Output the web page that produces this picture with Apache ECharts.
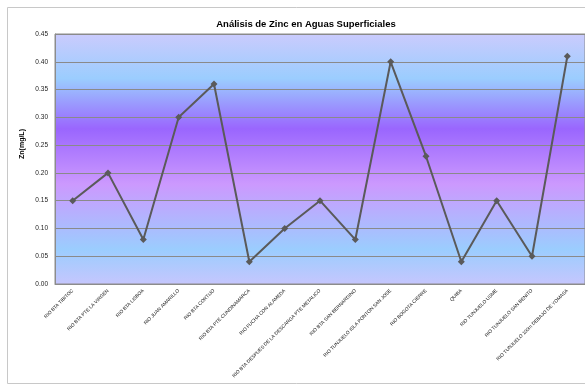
<!DOCTYPE html>
<html>
<head>
<meta charset="utf-8">
<script src="https://cdn.jsdelivr.net/npm/echarts@6/dist/echarts.min.js"></script>
<style>
  html, body { margin: 0; padding: 0; background: #ffffff; }
  #chart { width: 585px; height: 388px; }
</style>
</head>
<body>
<div id="chart"></div>
<script>
// Sampling stations along the river
const stations = [
  'RIO BTA TIBITOC',
  'RIO BTA PTE LA VIRGEN',
  'RIO BTA LISBOA',
  'RIO JUAN AMARILLO',
  'RIO BTA CORTIJO',
  'RIO BTA PTE CUNDINAMARCA',
  'RIO FUCHA CON ALAMEDA',
  'RIO BTA DESPUES DE LA DESCARGA PTE METALICO',
  'RIO BTA SAN BERNARDINO',
  'RIO TUNJUELO ISLA PONTON SAN JOSE',
  'RIO BOGOTA CIERRE',
  'QUIBA',
  'RIO TUNJUELO USME',
  'RIO TUNJUELO SAN BENITO',
  'RIO TUNJUELO 100m DEBAJO DE YOMASA'
];

// Zinc concentration (mg/L)
const zinc = [0.15, 0.20, 0.08, 0.30, 0.36, 0.04, 0.10, 0.15, 0.08, 0.40, 0.23, 0.04, 0.15, 0.05, 0.41];

const titleText = 'Análisis de Zinc en Aguas Superficiales';
const yAxisTitle = 'Zn(mg/L)';

const chart = echarts.init(document.getElementById('chart'));

const plotFill = new echarts.graphic.LinearGradient(0, 0, 0, 1, [
  { offset: 0.00, color: '#cbcbfd' },
  { offset: 0.18, color: '#9bcdfe' },
  { offset: 0.38, color: '#9a66fe' },
  { offset: 0.60, color: '#cc99fe' },
  { offset: 0.86, color: '#9bcdfe' },
  { offset: 1.00, color: '#c6c6fd' }
]);

chart.setOption({
  animation: false,
  backgroundColor: '#ffffff',
  title: {
    text: titleText,
    left: 301,
    top: 14,
    textAlign: 'center',
    textStyle: { fontFamily: 'Liberation Sans, Arial, sans-serif', fontSize: 9.5, fontWeight: 'bold', color: '#000000' }
  },
  graphic: [{
    type: 'rect',
    shape: { x: 7.5, y: 7.5, width: 600, height: 376 },
    style: { fill: 'none', stroke: '#c8c8c8', lineWidth: 1 },
    z: -10
  }, {
    // vertical axis title, sitting a little above the plot's middle
    type: 'text',
    x: 22,
    y: 144,
    rotation: Math.PI / 2,
    style: {
      text: yAxisTitle,
      align: 'center',
      verticalAlign: 'middle',
      fontFamily: 'Liberation Sans, Arial, sans-serif',
      fontSize: 7,
      fontWeight: 'bold',
      fill: '#000000'
    }
  }],
  grid: {
    left: 55,
    right: 0,
    top: 34,
    bottom: 104,
    show: true,
    backgroundColor: plotFill,
    borderColor: '#8c8c8c',
    borderWidth: 1
  },
  xAxis: {
    type: 'category',
    data: stations,
    boundaryGap: true,
    axisLine: { show: true, lineStyle: { color: '#8c8c8c' } },
    axisTick: { show: false },
    axisLabel: {
      rotate: 45,
      interval: 0,
      fontSize: 4.8,
      color: '#222222',
      fontFamily: 'Liberation Sans, Arial, sans-serif',
      margin: 6
    },
    splitLine: { show: false }
  },
  yAxis: {
    type: 'value',
    min: 0,
    max: 0.45,
    interval: 0.05,
    axisLine: { show: true, lineStyle: { color: '#8c8c8c' } },
    axisTick: { show: false },
    axisLabel: {
      formatter: v => v.toFixed(2),
      fontSize: 6.5,
      color: '#222222',
      fontFamily: 'Liberation Sans, Arial, sans-serif',
      margin: 7
    },
    splitLine: { show: true, lineStyle: { color: '#8a8a8a', width: 1 } }
  },
  series: [{
    type: 'line',
    data: zinc,
    symbol: 'diamond',
    symbolSize: 7,
    lineStyle: { color: '#5a5a5a', width: 2 },
    itemStyle: { color: '#5a5a5a' },
    clip: false
  }]
});
</script>
</body>
</html>
